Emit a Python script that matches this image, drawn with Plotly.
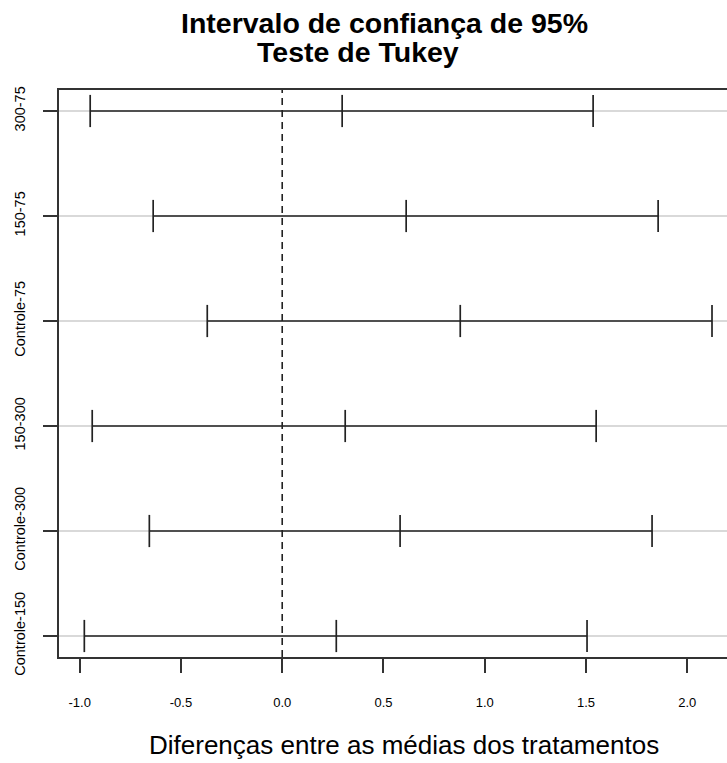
import plotly.graph_objects as go

comparisons = ["Controle-150", "Controle-300", "150-300", "Controle-75", "150-75", "300-75"]
diff = [0.267, 0.582, 0.311, 0.879, 0.612, 0.296]
lwr = [-0.977, -0.656, -0.938, -0.370, -0.637, -0.948]
upr = [1.505, 1.826, 1.550, 2.122, 1.856, 1.535]
x_ticks = [-1.0, -0.5, 0.0, 0.5, 1.0, 1.5, 2.0]

ypos = list(range(1, len(comparisons) + 1))
dark = "#222222"

fig = go.Figure()
for i, name in enumerate(comparisons):
    y = ypos[i]
    fig.add_trace(go.Scatter(x=[lwr[i], upr[i]], y=[y, y], mode="lines",
                             line=dict(color=dark, width=1.6), showlegend=False,
                             hoverinfo="skip"))
    fig.add_trace(go.Scatter(x=[lwr[i], diff[i], upr[i]], y=[y, y, y], mode="markers",
                             marker=dict(symbol="line-ns-open", size=23, color=dark,
                                         line=dict(color=dark, width=1.7)),
                             showlegend=False, name=name))

fig.add_shape(type="line", xref="x", yref="paper", x0=0, x1=0, y0=0, y1=1,
              line=dict(color=dark, width=1.6, dash="7px,5px"))

fig.update_layout(
    width=727, height=763,
    margin=dict(l=59, r=0, t=90, b=106),
    plot_bgcolor="white", paper_bgcolor="white",
    font=dict(family="Liberation Sans, Arial, sans-serif", color="black"),
    xaxis=dict(range=[-1.102, 2.196], tickvals=x_ticks,
               ticktext=["%.1f" % v for v in x_ticks],
               showgrid=False, zeroline=False, showline=True, mirror=True,
               linecolor="#333333", linewidth=1.6, ticks="outside", ticklen=14,
               tickwidth=1.6, tickcolor="#333333", tickfont=dict(size=13),
               ticklabelstandoff=19),
    yaxis=dict(range=[0.8, 6.2], tickvals=ypos, ticktext=comparisons,
               showgrid=True, gridcolor="#d9d9d9", gridwidth=2, zeroline=False,
               showline=True, mirror=False, linecolor="#333333", linewidth=1.6,
               ticks="outside", ticklen=14, tickwidth=1.6, tickcolor="#333333",
               tickangle=-90, tickfont=dict(size=14.5), ticklabelstandoff=12),
)

fig.add_annotation(text="<b>Intervalo de confiança de 95%</b>", xref="paper", yref="paper",
                   x=(384 - 59) / 668, y=1 + (90 - 23) / 567, xanchor="center", yanchor="middle",
                   showarrow=False, font=dict(size=28.5))
fig.add_annotation(text="<b>Teste de Tukey</b>", xref="paper", yref="paper",
                   x=(358 - 59) / 668, y=1 + (90 - 52) / 567, xanchor="center", yanchor="middle",
                   showarrow=False, font=dict(size=28.5))
fig.add_annotation(text="Diferenças entre as médias dos tratamentos", xref="paper", yref="paper",
                   x=(404 - 59) / 668, y=-(745 - 657) / 567, xanchor="center", yanchor="middle",
                   showarrow=False, font=dict(size=26))

fig.write_html("out.html")
